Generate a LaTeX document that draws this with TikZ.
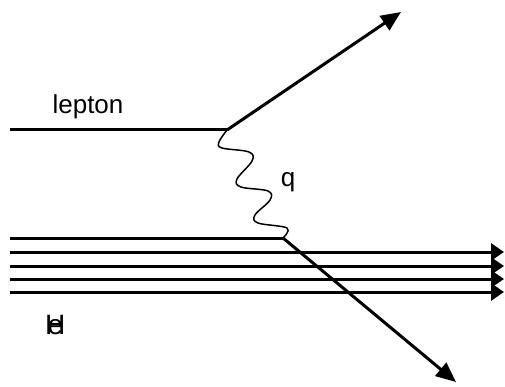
\documentclass[tikz,border=0pt]{standalone}
\usepackage{fontspec}
\setmainfont{Liberation Sans}
\usetikzlibrary{arrows.meta}
\begin{document}
\begin{tikzpicture}[x=1pt,y=-1pt,
  line/.style={line width=3pt},
  outarrow/.style={line width=3pt, -{Triangle[length=20pt,width=17pt]}},
  beamarrow/.style={line width=3pt, -{Triangle[length=13pt,width=17pt]}},
  lbl/.style={font=\fontsize{26}{28}\selectfont, inner sep=0pt}]
\useasboundingbox (0,0) rectangle (505,387);
% vertices
\coordinate (lin) at (10,130);
\coordinate (v1) at (227,130);
\coordinate (lout) at (401,12);
\coordinate (hin) at (10,238);
\coordinate (v2) at (283,238);
\coordinate (hout) at (456,382);
% lepton
\draw[line] (lin) -- (v1);
\draw[outarrow] (v1) -- (lout);
\node[lbl, anchor=base] (lep) at (88,114) {lepton};
% photon
\draw[line width=1.5pt, line join=round] plot[smooth, tension=0.6] coordinates
 {(227,130) (219,142) (222,148) (249,152) (252,161) (237,179) (241,187) (268,191) (270,200) (255,215) (258,223) (287,228) (283,238)};
\node[lbl, anchor=base] (q) at (288,186) {q};
% hadron
\draw[line] (hin) -- (v2);
\draw[outarrow] (v2) -- (hout);
\foreach \y/\n in {252/a,266/b,279/c,292/d}{
  \coordinate (s\n) at (10,\y);
  \coordinate (e\n) at (504,\y);
  \draw[beamarrow] (s\n) -- (e\n);
}
\node[font=\fontsize{28}{30}\selectfont, inner sep=0pt, anchor=base west] (lh) at (45,334) {H};
\node[font=\fontsize{28}{30}\selectfont, inner sep=0pt, anchor=base west] (le) at (47.5,334) {e};
\end{tikzpicture}
\end{document}
